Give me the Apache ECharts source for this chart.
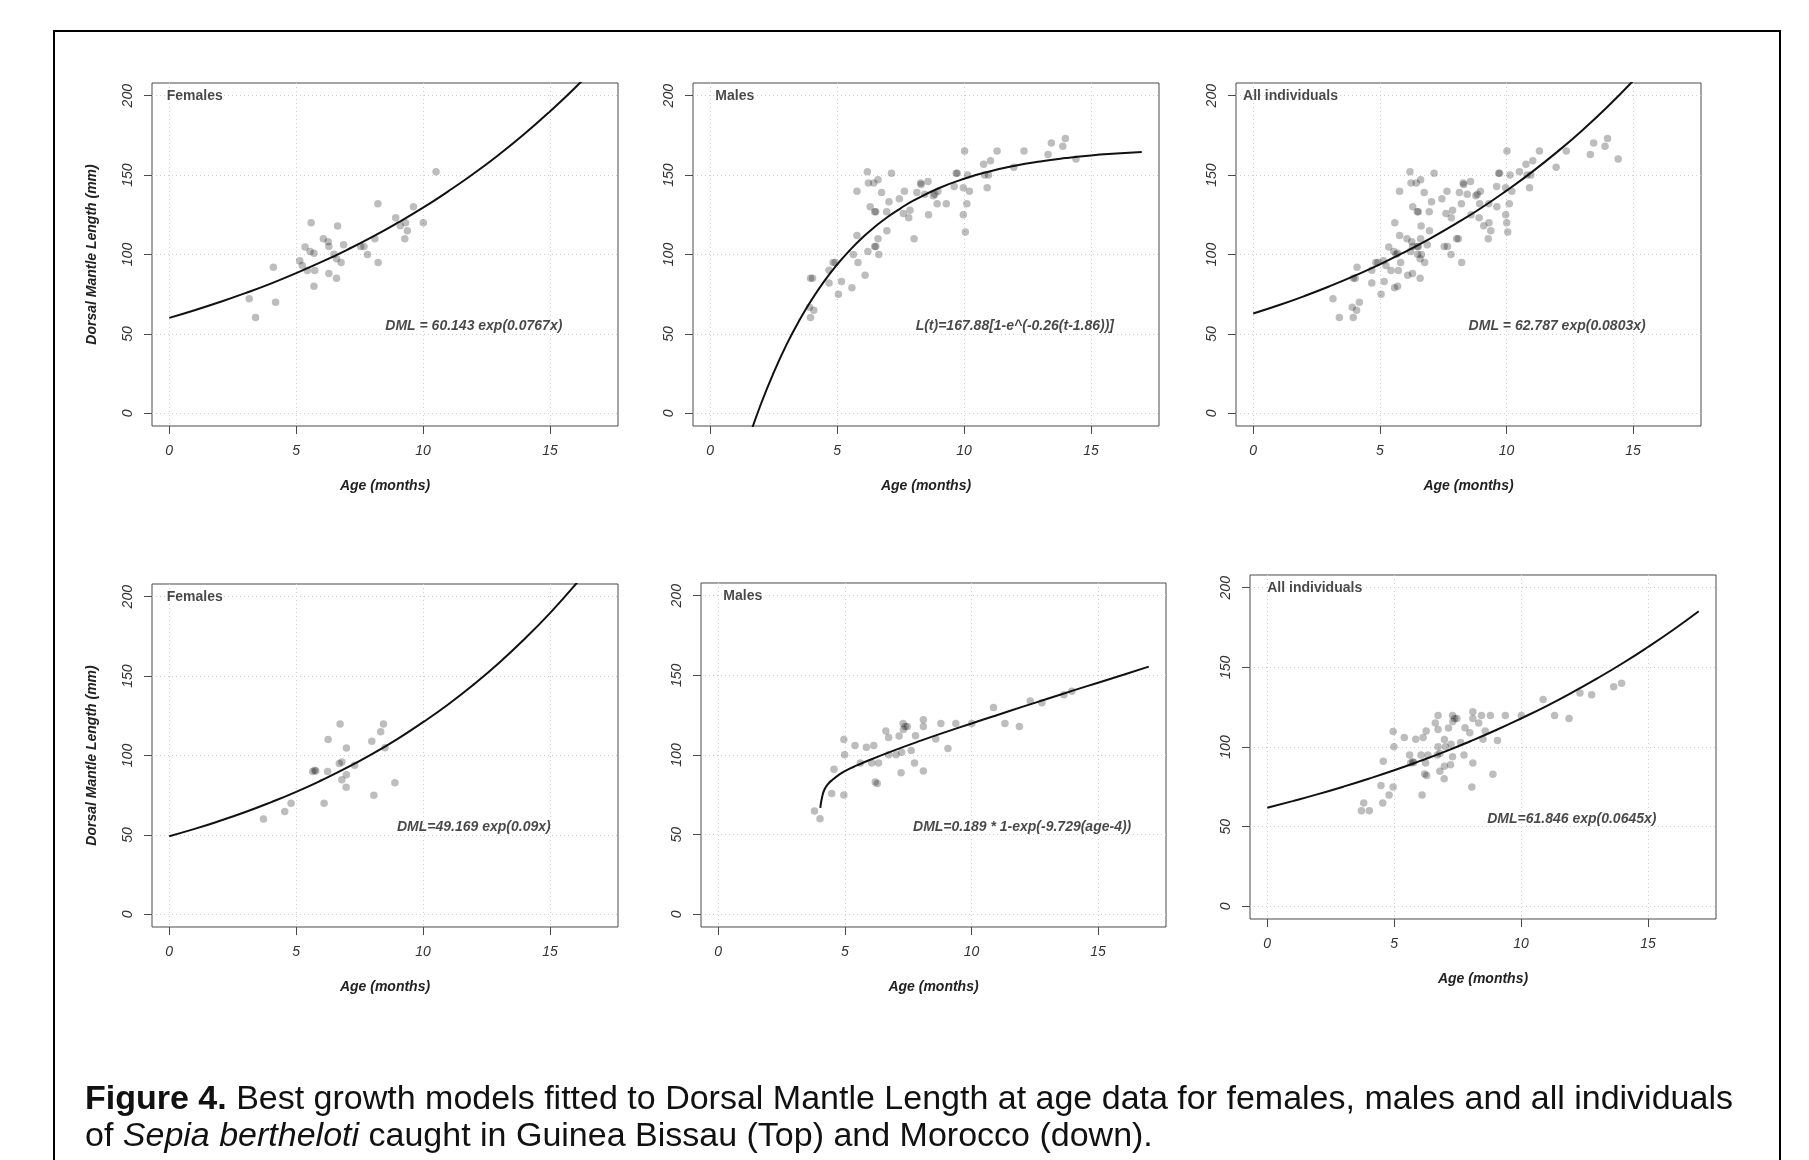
<!DOCTYPE html>
<html><head><meta charset="utf-8">
<script src="https://cdn.jsdelivr.net/npm/echarts@6/dist/echarts.min.js"></script>
<style>html,body{margin:0;padding:0;background:#fff;} #c{width:1809px;height:1160px;}</style>
</head><body><div id="c"></div>
<script>
// ---------- data ----------
const xTicks = [0, 5, 10, 15];
const yTicks = [0, 50, 100, 150, 200];
const panelTitles = ['Females', 'Males', 'All individuals', 'Females', 'Males', 'All individuals'];
const equations = [
  'DML = 60.143 exp(0.0767x)',
  'L(t)=167.88[1-e^(-0.26(t-1.86))]',
  'DML = 62.787 exp(0.0803x)',
  'DML=49.169 exp(0.09x)',
  'DML=0.189 * 1-exp(-9.729(age-4))',
  'DML=61.846 exp(0.0645x)'
];
const xName = 'Age (months)';
const yName = 'Dorsal Mantle Length (mm)';

// Guinea Bissau (top row)
const femalesGB = [[3.15,72.1],[3.40,60.3],[4.10,92.0],[4.19,70.0],[5.14,96.0],[5.24,93.1],[5.35,104.8],[5.44,89.9],[5.55,101.9],[5.59,120.0],[5.70,100.8],[5.70,80.0],[5.73,89.9],[6.07,109.9],[6.26,108.0],[6.29,105.0],[6.29,88.0],[6.49,100.2],[6.59,97.3],[6.59,85.1],[6.63,117.9],[6.77,95.0],[6.87,106.1],[7.54,105.0],[7.67,105.0],[7.81,100.0],[8.10,109.9],[8.22,131.9],[8.23,95.0],[8.92,123.1],[9.10,118.1],[9.31,120.0],[9.28,109.9],[9.38,114.9],[9.62,130.0],[10.01,120.0],[10.51,152.1]];
const malesGB = [[3.95,85.1],[4.03,85.1],[3.91,66.8],[3.95,60.3],[4.08,64.9],[4.68,90.1],[4.68,82.1],[4.84,95.0],[4.92,95.0],[5.05,75.0],[5.17,83.0],[5.58,79.0],[5.64,100.0],[5.78,139.9],[5.78,112.0],[5.82,95.0],[6.10,87.0],[6.19,152.1],[6.23,145.0],[6.21,101.9],[6.30,130.0],[6.44,145.0],[6.48,126.9],[6.52,126.9],[6.48,105.0],[6.52,105.0],[6.61,147.1],[6.61,109.9],[6.64,100.0],[6.75,139.1],[6.95,126.9],[6.96,114.9],[7.04,133.2],[7.14,151.1],[7.45,135.1],[7.61,125.8],[7.65,139.9],[7.82,123.1],[7.87,127.9],[8.03,109.9],[8.14,139.1],[8.29,145.0],[8.31,144.1],[8.45,138.0],[8.58,146.0],[8.60,125.0],[8.79,137.0],[8.85,138.0],[8.94,131.9],[8.97,139.9],[9.30,131.9],[9.61,142.9],[9.69,151.1],[9.73,151.1],[9.97,142.0],[9.97,125.0],[10.02,165.1],[10.05,114.1],[10.11,131.9],[10.14,150.0],[10.21,139.9],[10.77,156.9],[10.81,150.0],[10.91,142.0],[10.96,150.0],[11.04,159.0],[11.30,165.1],[11.96,155.0],[12.36,165.1],[13.31,163.0],[13.44,170.2],[13.89,168.1],[13.99,173.1],[14.41,160.1]];
// Morocco (bottom row)
const femalesMA = [[3.71,60.0],[4.55,64.8],[4.80,69.9],[5.65,90.0],[5.73,90.7],[5.77,90.2],[6.10,69.9],[6.24,90.0],[6.26,110.0],[6.73,119.8],[6.70,94.9],[6.80,95.9],[6.80,84.8],[6.97,80.0],[6.98,104.7],[6.98,87.9],[7.30,93.8],[7.98,108.9],[8.06,74.9],[8.33,115.0],[8.44,119.8],[8.50,104.9],[8.89,82.9]];
const malesMA = [[3.80,64.8],[4.02,60.0],[4.48,75.8],[4.57,91.1],[4.96,109.8],[4.99,100.1],[4.96,74.9],[5.40,106.0],[5.61,94.9],[5.85,104.9],[6.06,94.9],[6.14,106.0],[6.20,83.1],[6.28,82.1],[6.33,94.9],[6.62,115.0],[6.73,111.0],[6.73,100.1],[7.02,100.1],[7.14,111.9],[7.22,88.8],[7.24,101.8],[7.30,119.8],[7.31,116.0],[7.38,117.9],[7.47,117.9],[7.62,102.8],[7.75,94.9],[7.79,112.1],[8.10,122.1],[8.10,117.9],[8.10,90.0],[8.59,110.0],[8.79,119.8],[9.07,104.1],[9.38,119.8],[10.01,119.8],[10.87,129.9],[11.32,119.8],[11.89,117.9],[12.32,133.9],[12.78,132.8],[13.65,137.9],[13.96,140.0]];

// fitted curves
const curveFemalesGB = [[0,60.1],[1,64.9],[2,70.1],[3,75.7],[4,81.7],[5,88.3],[6,95.3],[7,102.9],[8,111.1],[9,120.0],[10,129.5],[11,139.9],[12,151.0],[13,163.0],[14,176.0],[15,190.1],[16,205.2],[17,221.6]];
const curveMalesGB = [[1.5,-16.5],[2,6.0],[2.5,25.7],[3,43.1],[3.5,58.3],[4,71.6],[4.5,83.4],[5,93.7],[5.5,102.7],[6,110.7],[6.5,117.6],[7,123.8],[7.5,129.1],[8,133.9],[9,141.7],[10,147.7],[11,152.3],[12,155.9],[13,158.6],[14,160.7],[15,162.4],[16,163.6],[17,164.6]];
const curveAllGB = [[0,62.8],[1,68.0],[2,73.7],[3,79.9],[4,86.6],[5,93.8],[6,101.7],[7,110.2],[8,119.4],[9,129.3],[10,140.2],[11,151.9],[12,164.6],[13,178.3],[14,193.2],[15,209.4],[16,226.9],[17,245.9]];
const curveFemalesMA = [[0,49.2],[1,53.8],[2,58.9],[3,64.4],[4,70.5],[5,77.1],[6,84.4],[7,92.3],[8,101.0],[9,110.5],[10,121.0],[11,132.3],[12,144.8],[13,158.4],[14,173.4],[15,189.7],[16,207.6],[17,227.1]];
const curveMalesMA = [[4.03,66.8],[4.1,73.5],[4.2,78.5],[4.35,82.0],[4.5,84.3],[4.75,87.4],[5,89.9],[5.5,93.6],[6,97.0],[7,103.2],[8,109.0],[9,114.5],[10,119.8],[11,125.0],[12,130.2],[13,135.3],[14,140.4],[15,145.4],[16,150.4],[17,155.5]];
const curveAllMA = [[0,61.8],[1,66.0],[2,70.4],[3,75.1],[4,80.1],[5,85.4],[6,91.1],[7,97.1],[8,103.6],[9,110.5],[10,117.9],[11,125.7],[12,134.1],[13,143.1],[14,152.6],[15,162.8],[16,173.6],[17,185.2]];

// ---------- build ----------
const FONT = '"Liberation Sans", Arial, Helvetica, sans-serif';
const points = [femalesGB, malesGB, femalesGB.concat(malesGB), femalesMA, malesMA, femalesMA.concat(malesMA)];
const curves = [curveFemalesGB, curveMalesGB, curveAllGB, curveFemalesMA, curveMalesMA, curveAllMA];
const titleX = [-0.1, 0.2, -0.4, -0.1, 0.2, 0.0];

const grids = [
  {left:152, top:83, width:466, height:343},
  {left:693, top:83, width:466, height:343},
  {left:1236, top:83, width:465, height:343},
  {left:152, top:584, width:466, height:343},
  {left:701, top:583, width:465, height:344},
  {left:1250, top:575, width:466, height:344}
];

const option = {
  backgroundColor: '#ffffff',
  animation: false,
  grid: grids.map(g => Object.assign({show:true, borderColor:'#4a4a4a', borderWidth:1, backgroundColor:'transparent'}, g)),
  xAxis: [], yAxis: [], series: [],
  graphic: [
    {type:'rect', shape:{x:54, y:31, width:1726, height:1200}, style:{fill:'none', stroke:'#000', lineWidth:2}, z:100},
    {type:'text', left:85, top:1083, z:100, style:{
      text:'{b|Figure 4.}{n| Best growth models fitted to Dorsal Mantle Length at age data for females, males and all individuals}\n{n|of }{i|Sepia bertheloti}{n| caught in Guinea Bissau (Top) and Morocco (down).}',
      rich:{
        b:{fontWeight:'bold', fontSize:34, fontFamily:FONT, fill:'#111', lineHeight:37},
        n:{fontSize:34, fontFamily:FONT, fill:'#111', lineHeight:37},
        i:{fontStyle:'italic', fontSize:34, fontFamily:FONT, fill:'#111', lineHeight:37}
      }
    }}
  ]
};

for (let i = 0; i < 6; i++) {
  option.xAxis.push({
    type:'value', gridIndex:i, min:-0.68, max:17.68,
    axisLine:{show:false, onZero:false},
    axisTick:{show:true, length:8, customValues:xTicks, lineStyle:{color:'#4a4a4a'}},
    axisLabel:{customValues:xTicks, margin:18, fontStyle:'italic', fontSize:14, color:'#333', fontFamily:FONT},
    splitLine:{show:true, lineStyle:{type:[1,3], color:'#cfcfcf', width:1}},
    name:xName, nameLocation:'middle', nameGap:53,
    nameTextStyle:{fontWeight:'bold', fontStyle:'italic', fontSize:14, color:'#222', fontFamily:FONT}
  });
  option.yAxis.push({
    type:'value', gridIndex:i, min:-8, max:208,
    axisLine:{show:false, onZero:false},
    axisTick:{show:true, length:8, customValues:yTicks, lineStyle:{color:'#4a4a4a'}},
    axisLabel:{customValues:yTicks, margin:17, rotate:90, fontStyle:'italic', fontSize:14, color:'#333', fontFamily:FONT},
    splitLine:{show:true, lineStyle:{type:[1,3], color:'#cfcfcf', width:1}},
    name:(i % 3 === 0) ? yName : '', nameLocation:'middle', nameGap:53, nameRotate:90,
    nameTextStyle:{fontWeight:'bold', fontStyle:'italic', fontSize:14, color:'#222', fontFamily:FONT}
  });
  option.series.push({
    type:'scatter', xAxisIndex:i, yAxisIndex:i, data:points[i], symbolSize:7.5,
    itemStyle:{color:'rgba(0,0,0,0.32)'}, silent:true
  });
  option.series.push({
    type:'line', xAxisIndex:i, yAxisIndex:i, data:curves[i], showSymbol:false, symbol:'none',
    smooth:true, clip:true,
    lineStyle:{color:'#111', width:2}, silent:true
  });
  option.series.push({
    type:'scatter', xAxisIndex:i, yAxisIndex:i, data:[[12,55]], symbolSize:0, silent:true,
    itemStyle:{color:'transparent'},
    label:{show:true, position:'inside', formatter:equations[i], fontWeight:'bold', fontStyle:'italic', fontSize:14, color:'#1a1a1a', fontFamily:FONT}
  });
  option.series.push({
    type:'scatter', xAxisIndex:i, yAxisIndex:i, data:[[titleX[i],200]], symbolSize:0, silent:true,
    itemStyle:{color:'transparent'},
    label:{show:true, position:'right', distance:0, formatter:panelTitles[i], fontWeight:'bold', fontSize:14, color:'#1a1a1a', fontFamily:FONT}
  });
}

const chart = echarts.init(document.getElementById('c'), null, {renderer:'canvas'});
chart.setOption(option);
</script>
</body></html>
